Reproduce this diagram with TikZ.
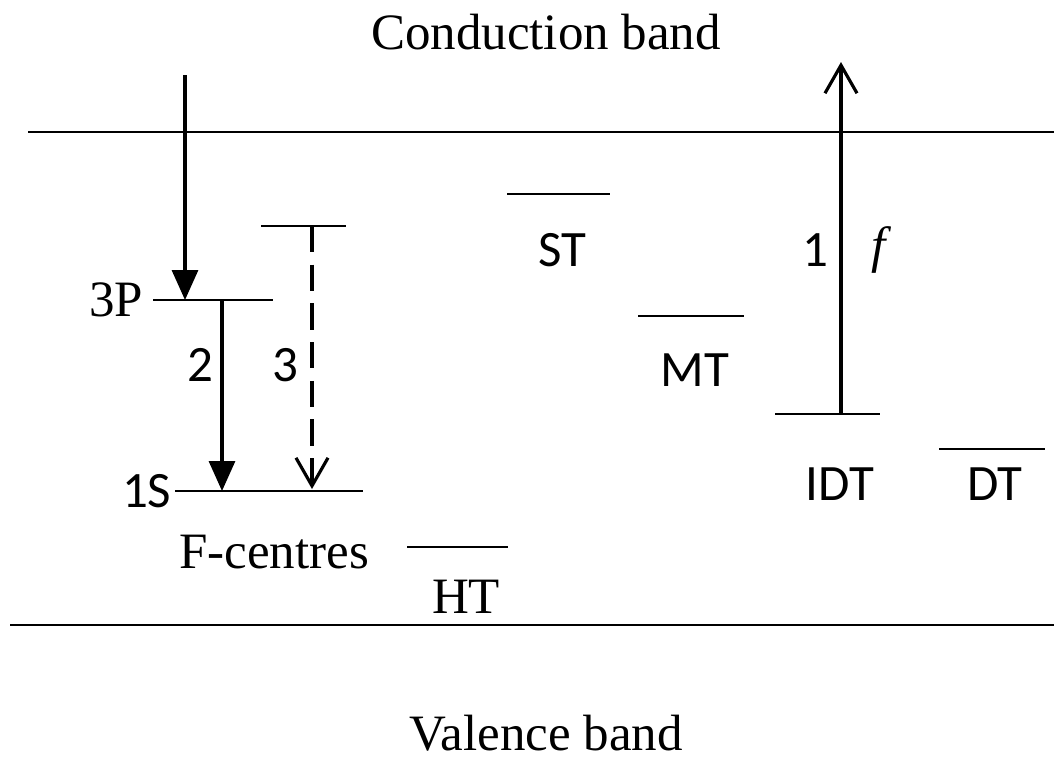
\documentclass[tikz,border=0pt]{standalone}
\usepackage{fontspec}
\setmainfont{Liberation Serif}
\setsansfont{Carlito}
\usetikzlibrary{positioning, arrows.meta}
\tikzset{
  band/.style={line width=0.6pt},
  level/.style={line width=0.6pt},
  lbl/.style={font=\fontsize{14.5}{17}\selectfont, inner sep=0pt},
  slbl/.style={font=\sffamily\fontsize{14.5}{17}\selectfont, inner sep=0pt},
  arr/.style={-{Triangle[length=3mm, width=2.6mm]}, line width=0.9pt},
  oarr/.style={-{Straight Barb[length=2.8mm, width=3.2mm, line width=0.9pt]}, line width=0.9pt},
  darr/.style={oarr, dash pattern=on 7.5pt off 3.5pt}
}
\begin{document}
\begin{tikzpicture}[x=0.01cm, y=-0.01cm]
  \useasboundingbox (0,0) rectangle (1054,756);

  % bands
  \draw[band] (28,132) coordinate (cbl) -- (1054,132) coordinate (cbr);
  \draw[band] (10,625) coordinate (vbl) -- (1054,625) coordinate (vbr);
  \node[lbl] (cb) at (546,32) {Conduction band};
  \node[lbl, anchor=base] (vb) at (546,750) {Valence band};

  % F-centre levels
  \draw[level] (153,300) coordinate (p3l) -- (273,300) coordinate (p3r);
  \draw[level] (175,491) coordinate (s1l) -- (363,491) coordinate (s1r);
  \draw[level] (261,226) coordinate (exl) -- (346,226) coordinate (exr);
  \node[lbl, anchor=east] (p3) at (144,300) {3P};
  \node[slbl, anchor=east] (s1) at (172,491) {1S};
  \node[lbl] (fc) at (274,552) {F-centres};

  % traps
  \draw[level] (407,547) coordinate (htl) -- (508,547) coordinate (htr);
  \draw[level] (507,194) coordinate (stl) -- (610,194) coordinate (str);
  \draw[level] (638,316) coordinate (mtl) -- (744,316) coordinate (mtr);
  \draw[level] (775,414) coordinate (idtl) -- (880,414) coordinate (idtr);
  \draw[level] (939,449) coordinate (dtl) -- (1045,449) coordinate (dtr);
  \node[lbl] (ht) at (466,597) {HT};
  \node[slbl] (st) at (562,250) {ST};
  \node[slbl] (mt) at (695,370) {MT};
  \node[slbl] (idt) at (840,484) {IDT};
  \node[slbl] (dt) at (995,484) {DT};

  % transitions
  \coordinate (in) at (185,75);
  \coordinate (p3a) at (185,300);
  \coordinate (p3b) at (222,300);
  \coordinate (s1a) at (222,491);
  \coordinate (exa) at (312,226);
  \coordinate (s1b) at (312,489);
  \coordinate (idta) at (841,414);
  \coordinate (up) at (841,62);
  \draw[arr] (in) -- (p3a);
  \draw[arr] (p3b) -- (s1a);
  \draw[darr] (exa) -- (s1b);
  \draw[oarr] (idta) -- (up);
  \node[slbl] (n2) at (200,365) {2};
  \node[slbl] (n3) at (285,365) {3};
  \node[slbl] (n1) at (815,250) {1};
  \node[lbl] (nf) at (882,250) {\textit{f}};
\end{tikzpicture}
\end{document}
